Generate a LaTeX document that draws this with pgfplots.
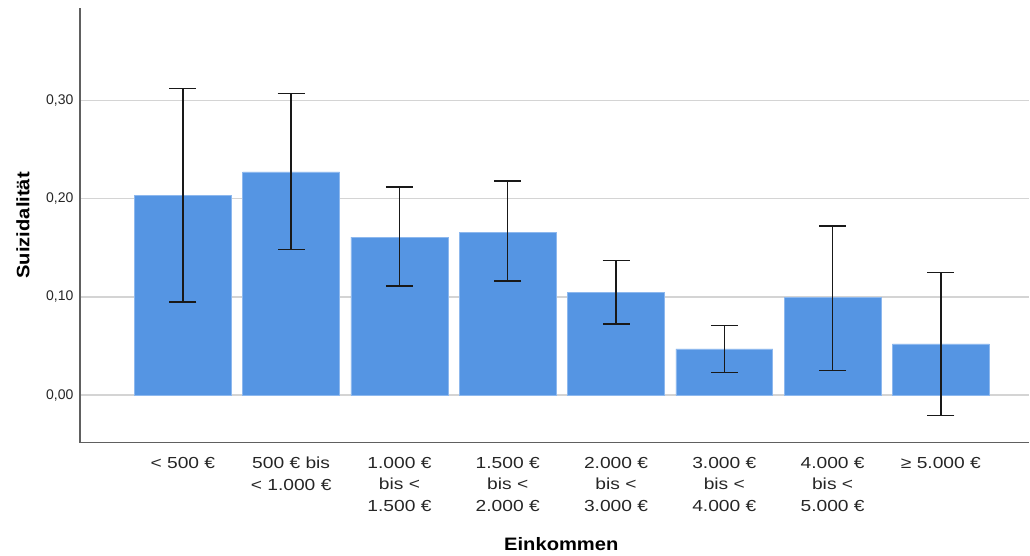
\documentclass[border=0pt]{standalone}
\usepackage{pgfplots}
\pgfplotsset{compat=1.18}
\usepackage{fontspec}
\setmainfont{Liberation Sans}
\newfontfamily\xtfont[FakeStretch=1.2]{Liberation Sans}
\newfontfamily\lblfont[FakeStretch=1.12]{Liberation Sans}
\definecolor{barblue}{HTML}{5595E3}
\definecolor{baredge}{HTML}{8DB8EE}
\definecolor{gridgray}{HTML}{D4D4D4}
\definecolor{axisgray}{HTML}{606060}
\begin{document}
\begin{tikzpicture}
\begin{axis}[
  scale only axis, width=950pt, height=435pt,
  xmin=-0.9505, xmax=7.817, ymin=-0.0486, ymax=0.3944,
  axis x line*=bottom, axis y line*=left,
  axis line style={-, color=axisgray, line width=1.3pt},
  major tick length=0pt,
  ymajorgrids, major grid style={color=gridgray, line width=1.3pt},
  ytick={0,0.1,0.2,0.3},
  yticklabels={{0,00},{0,10},{0,20},{0,30}},
  yticklabel style={font=\fontsize{14}{16}\selectfont, text=black!85, xshift=-3pt},
  xtick={0,1,2,3,4,5,6,7},
  xticklabels={{< 500 €},{500 € bis\\< 1.000 €},{1.000 €\\bis <\\1.500 €},{1.500 €\\bis <\\2.000 €},{2.000 €\\bis <\\3.000 €},{3.000 €\\bis <\\4.000 €},{4.000 €\\bis <\\5.000 €},{≥ 5.000 €}},
  xticklabel style={align=center, font=\xtfont\fontsize{16}{21.5}\selectfont, text=black!85, yshift=-11pt},
  xlabel={Einkommen},
  ylabel={Suizidalität},
  xlabel style={font=\lblfont\bfseries\fontsize{18}{21}\selectfont, at={(axis description cs:0.507,-0.2333)}, anchor=center},
  ylabel style={font=\lblfont\bfseries\fontsize{18}{21}\selectfont, at={(axis description cs:-0.0600,0.5)}, anchor=center, rotate=0},
]
\addplot[ybar, bar width=97pt, fill=barblue, draw=baredge, line width=0.6pt,
  error bars/.cd, y dir=both, y explicit,
  error bar style={line width=1.4pt, color=black!90},
  error mark options={rotate=90, mark size=13.5pt, line width=1.4pt, color=black!90}]
  table[x=x, y=y, y error plus=ep, y error minus=em] {
x y ep em
0 0.2033 0.1093 0.1083
1 0.2274 0.0796 0.0794
2 0.1610 0.0510 0.0500
3 0.1660 0.0520 0.0500
4 0.1048 0.0322 0.0323
5 0.0470 0.0239 0.0240
6 0.0995 0.0729 0.0745
7 0.0520 0.0728 0.0728
};
\end{axis}
\path ([shift={(-80pt,-113pt)}]current axis.south west) rectangle ([shift={(950pt,443pt)}]current axis.south west);
\end{tikzpicture}
\end{document}
